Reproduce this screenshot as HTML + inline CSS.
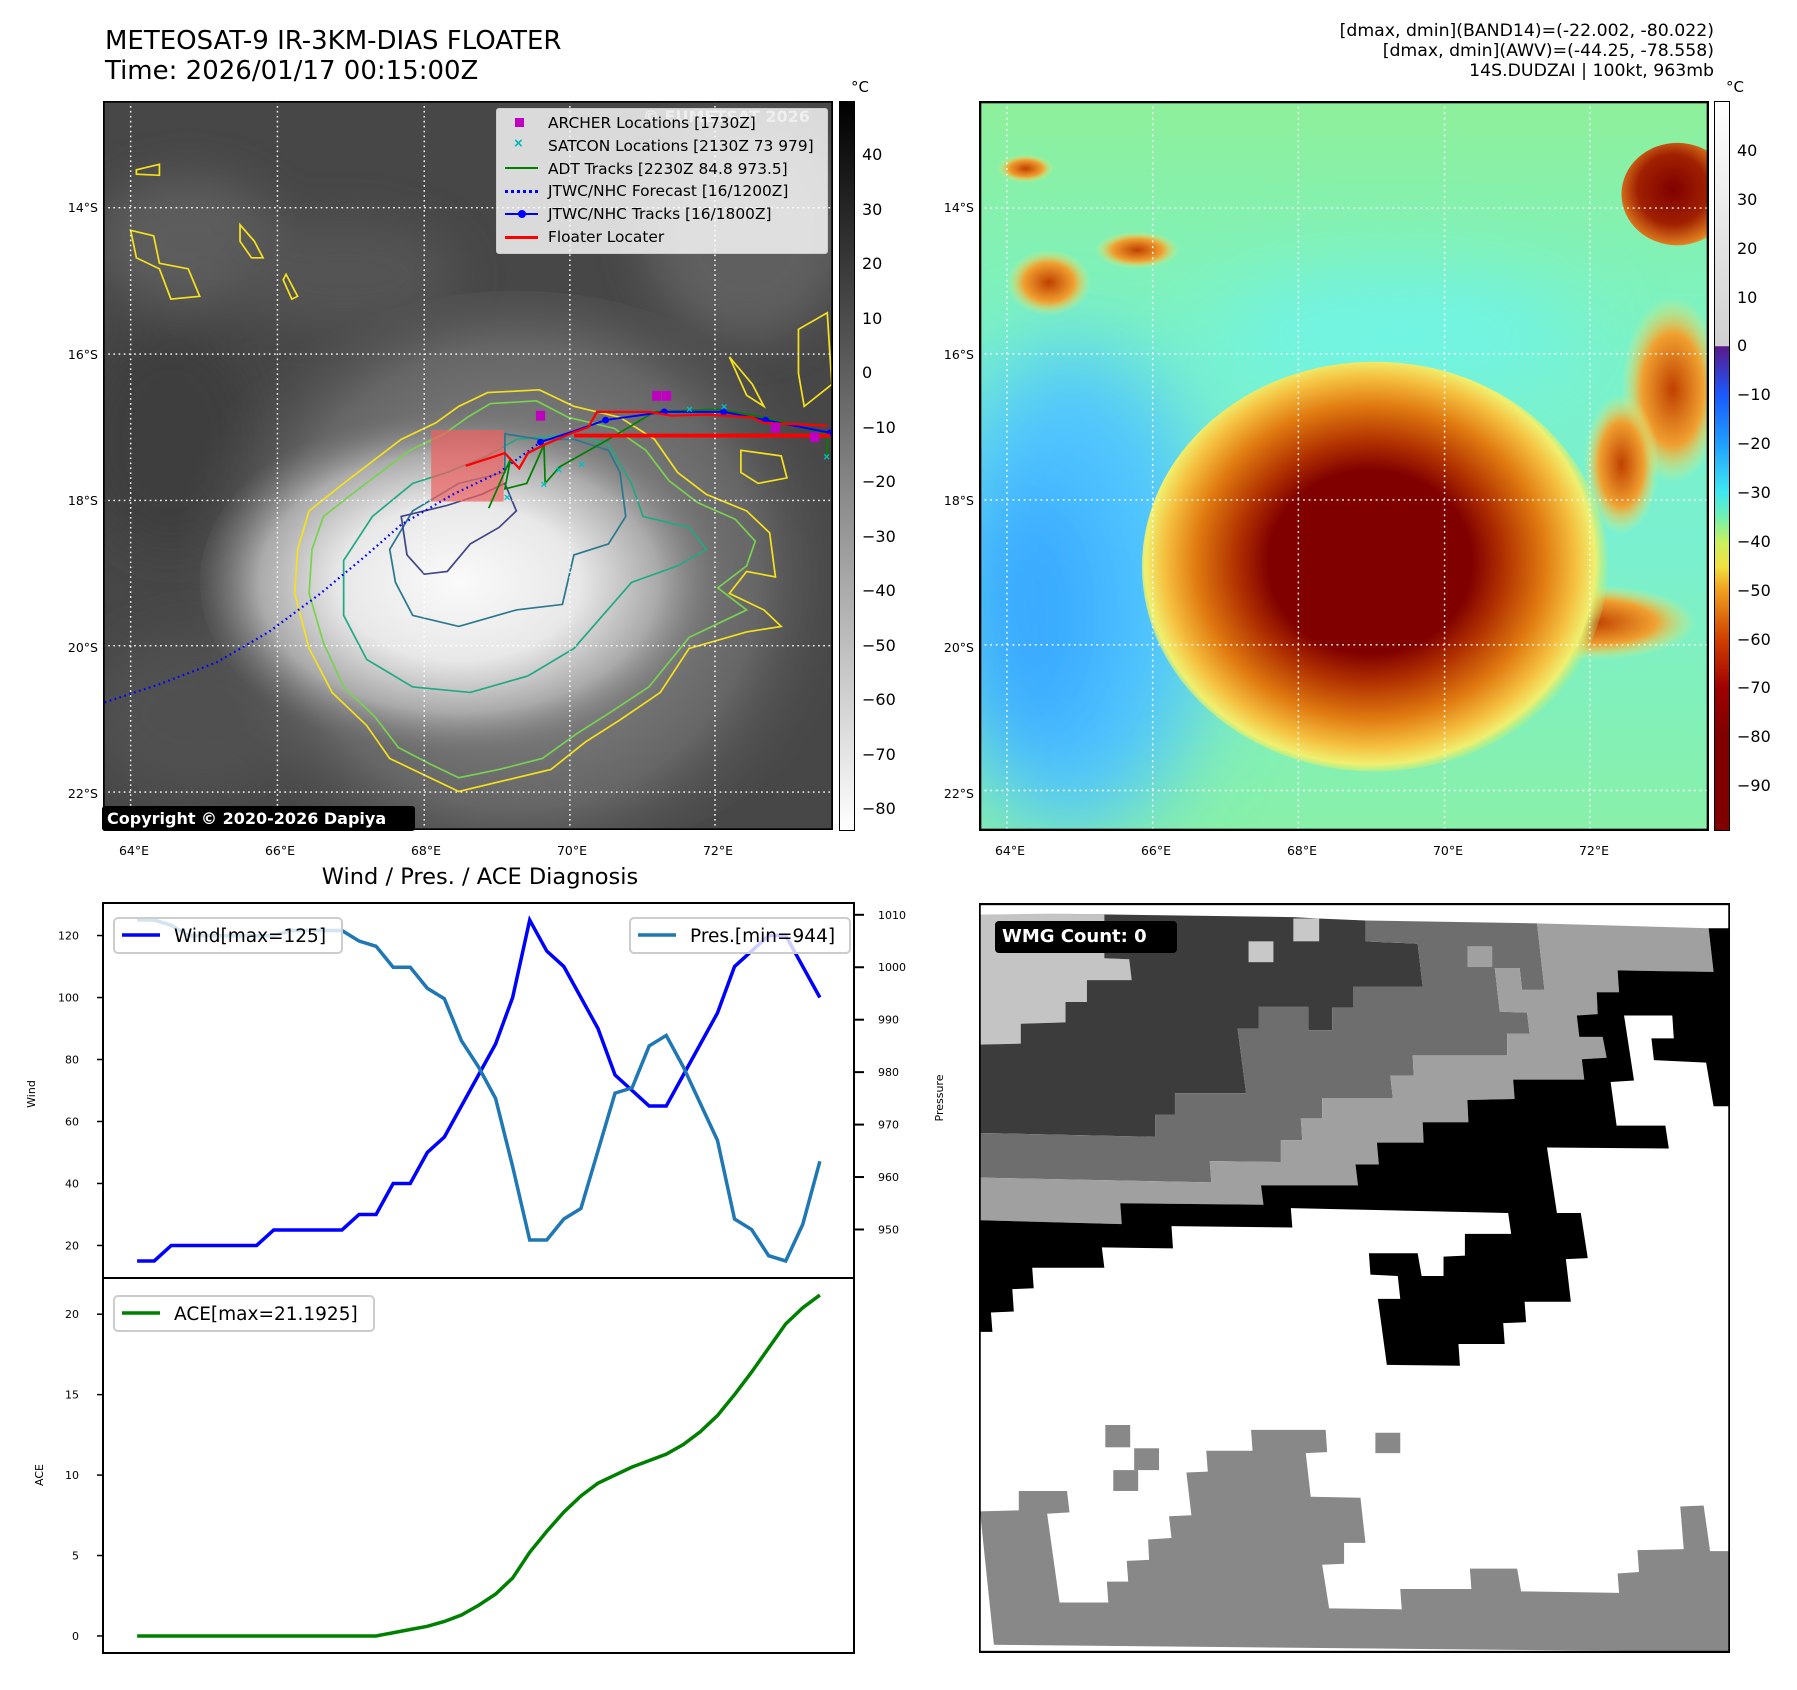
<!DOCTYPE html>
<html><head><meta charset="utf-8">
<style>
body{margin:0;background:#fff;}
#root{position:relative;width:1797px;height:1690px;overflow:hidden;background:#fff;font-family:"Liberation Sans","DejaVu Sans",sans-serif;color:#000;}
.abs{position:absolute;}
.t{position:absolute;white-space:nowrap;font-family:"DejaVu Sans","Liberation Sans",sans-serif;}
</style></head><body>
<div id="root">

<div class="t" style="left:105px;top:26px;font-size:26px;line-height:30px">METEOSAT-9 IR-3KM-DIAS FLOATER<br>Time: 2026/01/17 00:15:00Z</div>
<div class="t" style="right:83px;top:21px;font-size:17.3px;line-height:20px;text-align:right">[dmax, dmin](BAND14)=(-22.002, -80.022)<br>[dmax, dmin](AWV)=(-44.25, -78.558)<br>14S.DUDZAI | 100kt, 963mb</div>

<!-- LEFT MAP -->
<svg class="abs" style="left:103px;top:101px" width="730" height="729" viewBox="182 185 1268 1325" preserveAspectRatio="none">
<defs>
<radialGradient id="gw" cx="800" cy="1060" r="420" gradientUnits="userSpaceOnUse" gradientTransform="translate(800 1060) scale(1.1 0.75) translate(-800 -1060)">
<stop offset="0" stop-color="#fafafa"/><stop offset="0.45" stop-color="#e8e8e8"/><stop offset="0.75" stop-color="#aaa"/><stop offset="1" stop-color="#777" stop-opacity="0"/></radialGradient>
<radialGradient id="gh" cx="900" cy="1050" r="600" gradientUnits="userSpaceOnUse">
<stop offset="0" stop-color="#999"/><stop offset="0.7" stop-color="#666"/><stop offset="1" stop-color="#484848" stop-opacity="0"/></radialGradient>
<filter id="bl1"><feGaussianBlur stdDeviation="40"/></filter>
</defs>
<rect x="182" y="185" width="1268" height="1325" fill="#474747"/>
<g filter="url(#bl1)" opacity="0.7">
<ellipse cx="330" cy="440" rx="160" ry="120" fill="#666"/>
<ellipse cx="1300" cy="420" rx="180" ry="200" fill="#6a6a6a"/>
<ellipse cx="600" cy="500" rx="200" ry="100" fill="#5a5a5a"/>
<ellipse cx="350" cy="1300" rx="200" ry="150" fill="#555"/>
<ellipse cx="300" cy="800" rx="150" ry="200" fill="#3a3a3a"/>
</g>
<ellipse cx="900" cy="1050" rx="620" ry="520" fill="url(#gh)"/>
<ellipse cx="820" cy="1060" rx="470" ry="330" fill="url(#gw)"/>
<g fill="none" stroke-width="3">
<path d="M520,1000 L540,930 600,880 700,800 760,770 800,740 850,715 940,710 1000,740 1080,760 1140,800 1180,860 1230,900 1300,930 1340,970 1350,1050 1300,1040 1270,1080 1330,1110 1360,1140 1300,1150 1200,1180 1150,1260 1080,1310 1020,1350 960,1400 880,1420 800,1440 740,1410 680,1380 640,1320 580,1260 540,1180 515,1080Z" stroke="#f5e21c"/>
<path d="M545,1000 L565,940 620,895 715,820 775,790 815,760 855,735 935,730 990,760 1070,780 1125,820 1165,875 1215,915 1280,945 1315,985 1300,1030 1250,1070 1300,1110 1200,1160 1130,1250 1065,1295 1005,1335 945,1380 870,1400 800,1415 750,1390 695,1360 655,1305 600,1250 565,1170 540,1080Z" stroke="#7ad151"/>
<path d="M600,1020 L650,940 720,880 780,860 850,830 900,800 1000,790 1060,810 1100,880 1120,940 1200,960 1230,1000 1180,1030 1100,1060 1050,1120 1000,1180 920,1230 820,1260 720,1250 640,1200 600,1120Z" stroke="#22a884"/>
<path d="M680,1000 L720,930 800,880 880,860 880,790 940,800 1000,800 1060,820 1080,860 1090,940 1060,990 1000,1010 980,1100 900,1110 800,1140 720,1120 690,1060Z" stroke="#2a788e"/>
<path d="M700,940 L780,920 840,900 880,880 900,930 870,960 820,990 780,1040 740,1045 710,1010Z" stroke="#414487"/>
<path d="M240,310 L280,300 280,320 240,318Z M230,420 L270,430 280,480 330,490 350,540 300,545 280,490 240,470Z M420,410 L445,440 460,470 440,470 420,440Z M500,500 L520,540 510,545 495,510Z M1390,600 L1440,570 1448,700 1400,740 1390,680Z M1270,650 L1310,700 1330,740 1300,720Z M1290,820 L1360,830 1370,870 1320,880 1290,860Z" stroke="#f5e21c"/>
</g>
<g stroke="#fff" stroke-width="2.5" stroke-dasharray="3 6">
<line x1="230" y1="185" x2="230" y2="1510"/><line x1="485" y1="185" x2="485" y2="1510"/><line x1="740" y1="185" x2="740" y2="1510"/><line x1="993" y1="185" x2="993" y2="1510"/><line x1="1245" y1="185" x2="1245" y2="1510"/>
<line x1="182" y1="379" x2="1450" y2="379"/><line x1="182" y1="645" x2="1450" y2="645"/><line x1="182" y1="911" x2="1450" y2="911"/><line x1="182" y1="1175" x2="1450" y2="1175"/><line x1="182" y1="1441" x2="1450" y2="1441"/>
</g>
<rect x="752" y="783" width="126" height="130" fill="#f06060" opacity="0.7"/>
<polyline points="185,1278 280,1245 380,1205 470,1150 560,1080 640,1010 700,955 790,900 870,860 942,805" fill="none" stroke="#0000ff" stroke-width="4" stroke-dasharray="3 6"/>
<polyline points="852,925 890,835 880,890 918,880 948,810 950,880 975,850 1060,800 1140,750 1250,745 1330,760 1440,790 1440,830" fill="none" stroke="#008000" stroke-width="3"/>
<polyline points="942,805 1000,785 1055,765 1157,750 1260,750 1333,765 1445,788" fill="none" stroke="#0000ff" stroke-width="3.5"/>
<g fill="#0000ff"><circle cx="942" cy="805" r="6"/><circle cx="1055" cy="765" r="6"/><circle cx="1157" cy="750" r="6"/><circle cx="1260" cy="750" r="6"/><circle cx="1333" cy="765" r="6"/><circle cx="1445" cy="788" r="6"/></g>
<polyline points="812,848 880,825 905,853 920,825 948,810 1000,787 1025,778 1040,750 1130,750 1170,757 1230,755 1310,760 1330,770 1440,775" fill="none" stroke="#ff0000" stroke-width="4"/>
<line x1="1000" y1="793" x2="1445" y2="793" stroke="#ff0000" stroke-width="7"/>
<g fill="#00c0c0" font-size="20" font-weight="bold"><text x="878" y="912">×</text><text x="942" y="888">×</text><text x="968" y="862">×</text><text x="1008" y="852">×</text><text x="1195" y="752">×</text><text x="1255" y="748">×</text><text x="1433" y="838">×</text></g>
<g fill="#c000c0"><rect x="934" y="748" width="16" height="18"/><rect x="1136" y="712" width="16" height="18"/><rect x="1153" y="712" width="16" height="18"/><rect x="1342" y="770" width="16" height="18"/><rect x="1410" y="787" width="16" height="18"/></g>
<rect x="182" y="185" width="1268" height="1325" fill="none" stroke="#000" stroke-width="6"/>
</svg>
<div class="t" style="left:643px;top:107px;font-size:16px;font-weight:bold;color:rgba(255,255,255,0.55)">© EUMETSAT 2026</div>
<div class="abs" style="left:496px;top:108px;width:330px;height:144px;background:rgba(255,255,255,0.8);border:1px solid #ccc;border-radius:3px">
 <div class="abs" style="left:18px;top:9px;width:9px;height:9px;background:#c000c0"></div>
 <div class="abs" style="left:17px;top:27px;color:#00b8b8;font-size:15px;font-weight:bold;line-height:16px">×</div>
 <div class="abs" style="left:8px;top:58px;width:33px;height:2px;background:#008000"></div>
 <div class="abs" style="left:8px;top:81px;width:33px;border-top:3px dotted #0000ff"></div>
 <div class="abs" style="left:8px;top:104px;width:33px;height:2px;background:#0000ff"></div><div class="abs" style="left:21px;top:101px;width:8px;height:8px;border-radius:50%;background:#0000ff"></div>
 <div class="abs" style="left:8px;top:127px;width:33px;height:3px;background:#ff0000"></div>
 <div class="t" style="left:51px;top:3px;font-size:15.4px;line-height:22.8px">ARCHER Locations [1730Z]<br>SATCON Locations [2130Z 73 979]<br>ADT Tracks [2230Z 84.8 973.5]<br>JTWC/NHC Forecast [16/1200Z]<br>JTWC/NHC Tracks [16/1800Z]<br>Floater Locater</div>
</div>
<div class="abs" style="left:102px;top:806px;width:313px;height:25px;background:#000;border-radius:3px"><div class="t" style="left:5px;top:3px;color:#fff;font-weight:bold;font-size:16px">Copyright © 2020-2026 Dapiya</div></div>

<!-- left colorbar -->
<div class="abs" style="left:839px;top:101px;width:14px;height:728px;border:1px solid #000;background:linear-gradient(#000,#fff)"></div>
<div class="t" style="left:851px;top:78px;font-size:15px">°C</div>
<div id="cb1"></div>

<!-- RIGHT MAP -->
<svg class="abs" style="left:979px;top:101px" width="730" height="730" viewBox="0 0 1568 1568" preserveAspectRatio="none">
<defs>
<linearGradient id="bgv" x1="0" y1="0" x2="0" y2="1"><stop offset="0" stop-color="#8ef09a"/><stop offset="0.35" stop-color="#7af2c8"/><stop offset="0.6" stop-color="#7af0d0"/><stop offset="1" stop-color="#88f0a8"/></linearGradient>
<radialGradient id="st" cx="840" cy="990" r="520" gradientUnits="userSpaceOnUse" gradientTransform="translate(840 990) scale(1 0.9) translate(-840 -990)">
<stop offset="0" stop-color="#800000"/><stop offset="0.42" stop-color="#800000"/><stop offset="0.55" stop-color="#b03000"/><stop offset="0.72" stop-color="#e07a10"/><stop offset="0.85" stop-color="#f5c040"/><stop offset="0.93" stop-color="#f0f070"/><stop offset="1" stop-color="#a0f080" stop-opacity="0"/></radialGradient>
<radialGradient id="tr" cx="1490" cy="190" r="150" gradientUnits="userSpaceOnUse"><stop offset="0" stop-color="#800000"/><stop offset="0.5" stop-color="#a02000"/><stop offset="0.8" stop-color="#e08020"/><stop offset="1" stop-color="#f0e060" stop-opacity="0"/></radialGradient>
<radialGradient id="sm" cx="0.5" cy="0.5" r="0.5"><stop offset="0" stop-color="#c04000"/><stop offset="0.6" stop-color="#f0a030"/><stop offset="1" stop-color="#f0f070" stop-opacity="0"/></radialGradient>
<filter id="bl2" x="-50%" y="-50%" width="200%" height="200%"><feGaussianBlur stdDeviation="90"/></filter>
</defs>
<rect width="1568" height="1568" fill="url(#bgv)"/>
<g filter="url(#bl2)">
<ellipse cx="200" cy="1050" rx="300" ry="520" fill="#50c4ff"/>
<ellipse cx="120" cy="1100" rx="150" ry="300" fill="#38a8ff"/>
<ellipse cx="900" cy="500" rx="400" ry="120" fill="#70f4e8"/>
</g>
<ellipse cx="150" cy="390" rx="90" ry="70" fill="url(#sm)"/>
<ellipse cx="100" cy="145" rx="60" ry="30" fill="url(#sm)"/>
<ellipse cx="340" cy="320" rx="90" ry="40" fill="url(#sm)"/>
<ellipse cx="1490" cy="620" rx="110" ry="200" fill="url(#sm)"/>
<ellipse cx="1380" cy="780" rx="80" ry="150" fill="url(#sm)"/>
<ellipse cx="1320" cy="1120" rx="220" ry="80" fill="url(#sm)"/>
<ellipse cx="1500" cy="200" rx="120" ry="110" fill="url(#tr)"/>
<ellipse cx="850" cy="1000" rx="500" ry="440" fill="url(#st)"/>
<g stroke="#fff" stroke-width="3" stroke-dasharray="4 8">
<line x1="60" y1="0" x2="60" y2="1568"/><line x1="373" y1="0" x2="373" y2="1568"/><line x1="686" y1="0" x2="686" y2="1568"/><line x1="1000" y1="0" x2="1000" y2="1568"/><line x1="1312" y1="0" x2="1312" y2="1568"/>
<line x1="0" y1="230" x2="1568" y2="230"/><line x1="0" y1="543" x2="1568" y2="543"/><line x1="0" y1="857" x2="1568" y2="857"/><line x1="0" y1="1168" x2="1568" y2="1168"/><line x1="0" y1="1481" x2="1568" y2="1481"/>
</g>
<rect x="2" y="2" width="1564" height="1564" fill="none" stroke="#000" stroke-width="6"/>
</svg>
<div class="abs" style="left:1714px;top:101px;width:14px;height:728px;border:1px solid #000;background:linear-gradient(#ffffff 0%,#d0d0d0 33.5%,#5a1a8a 33.6%,#1a5aff 40.3%,#20a0ff 47%,#40e8f0 53.7%,#70f0b0 57%,#c8f060 60.4%,#f0e040 63.8%,#f0a020 67%,#d04000 73.8%,#a00000 80.5%,#800000 87%,#800000 100%)"></div>
<div class="t" style="left:1726px;top:78px;font-size:15px">°C</div>
<div id="cb2"></div>
<div id="maplabels"></div>

<!-- bottom charts -->
<div class="t" style="left:0;width:960px;text-align:center;top:864px;font-size:22.5px">Wind / Pres. / ACE Diagnosis</div>
<svg id="chart" class="abs" style="left:0;top:0" width="960" height="1690"></svg>

<!-- WMG panel -->
<svg class="abs" style="left:979px;top:903px" width="751" height="750" viewBox="38 6 1510 1546" preserveAspectRatio="none">
<rect x="38" y="6" width="1510" height="1546" fill="#fff"/>
<polygon fill="#c4c4c4" points="40,30 180,28 290,30 290,120 340,122 345,165 255,165 255,210 212,210 212,252 122,255 122,296 40,298"/>
<polygon fill="#3c3c3c" points="180,28 670,35 720,38 815,42 815,85 920,90 930,178 790,178 790,222 748,222 748,268 700,268 700,220 600,220 600,265 558,265 575,398 432,398 432,442 392,442 392,488 40,480 40,298 122,296 122,255 212,252 212,210 255,210 255,165 345,165 340,122 290,120 290,30"/>
<polygon fill="#6e6e6e" points="815,42 1160,48 1175,185 1130,185 1125,140 1075,140 1085,230 1140,232 1145,275 1100,275 1100,320 910,320 912,362 865,362 870,408 728,408 728,450 685,450 688,495 645,495 645,540 502,538 505,582 40,572 40,480 392,488 392,442 432,442 432,398 575,398 558,265 600,265 600,220 700,220 700,268 748,268 748,222 790,222 790,178 930,178 920,90 815,85"/>
<polygon fill="#a0a0a0" points="1160,48 1505,58 1515,148 1322,145 1325,190 1280,190 1282,235 1240,238 1245,282 1292,282 1300,325 1250,328 1255,370 1112,370 1115,410 1020,412 1022,458 930,458 932,500 838,500 842,545 795,545 800,588 605,588 610,628 322,625 325,668 40,660 40,572 505,582 502,538 645,540 645,495 688,495 685,450 728,450 728,408 870,408 865,362 912,362 910,320 1100,320 1100,275 1145,275 1140,232 1085,230 1075,140 1125,140 1130,185 1175,185"/>
<polygon fill="#000" points="1505,58 1545,58 1545,425 1515,425 1500,335 1395,330 1390,285 1435,285 1432,238 1335,238 1355,372 1308,375 1320,465 1418,465 1425,512 1180,510 1200,645 1248,645 1262,738 1218,740 1228,828 1135,828 1138,870 1092,872 1095,915 1002,915 1005,960 858,958 840,822 885,822 880,775 825,772 822,728 920,728 928,775 972,775 972,735 1015,733 1015,688 1108,688 1102,645 665,635 668,675 425,672 428,718 285,716 290,758 145,758 148,800 105,802 108,848 62,850 65,890 40,890 40,660 325,668 322,625 610,628 605,588 800,588 795,545 842,545 838,500 932,500 930,458 1022,458 1020,412 1115,410 1112,370 1255,370 1250,328 1300,325 1292,282 1245,282 1240,238 1282,235 1280,190 1325,190 1322,145 1515,148"/>
<polygon fill="#888" points="40,1260 118,1258 118,1218 215,1218 220,1262 175,1265 200,1448 298,1448 295,1405 338,1405 335,1362 380,1360 378,1318 425,1315 420,1270 465,1268 455,1180 498,1178 495,1135 588,1135 585,1092 735,1092 738,1138 695,1140 705,1230 805,1232 815,1325 772,1325 772,1368 728,1370 742,1460 888,1462 885,1420 1028,1420 1025,1378 1120,1378 1128,1425 1325,1428 1322,1388 1365,1385 1362,1340 1455,1338 1448,1250 1495,1248 1508,1342 1545,1342 1545,1550 68,1535"/>
<g fill="#888"><rect x="292" y="1082" width="50" height="46"/><rect x="350" y="1130" width="50" height="45"/><rect x="308" y="1175" width="50" height="43"/><rect x="835" y="1098" width="50" height="42"/></g>
<rect x="580" y="85" width="50" height="43" fill="#c8c8c8"/><rect x="670" y="38" width="52" height="47" fill="#c8c8c8"/><rect x="1020" y="95" width="50" height="43" fill="#a0a0a0"/>
<rect x="39" y="8" width="1508" height="1542" fill="none" stroke="#000" stroke-width="5"/>
</svg>
<div class="abs" style="left:995px;top:921px;width:182px;height:32px;background:#000;border-radius:4px"><div class="t" style="left:7px;top:5px;color:#fff;font-weight:bold;font-size:18px">WMG Count: 0</div></div>

</div>
<script>
// Chart data
const windValues=[15,15,20,20,20,20,20,20,25,25,25,25,25,30,30,40,40,50,55,65,75,85,100,125,115,110,100,90,75,70,65,65,75,85,95,110,115,120,120,110,100];
const presValues=[1009,1009,1008,1006,1006,1006,1006,1006,1006,1007,1007,1007,1007,1005,1004,1000,1000,996,994,986,981,975,962,948,948,952,954,965,976,977,985,987,981,974,967,952,950,945,944,951,963];
const aceValues=[0,0,0,0,0,0,0,0,0,0,0,0,0,0,0,0.2,0.4,0.6,0.9,1.3,1.9,2.6,3.6,5.2,6.5,7.7,8.7,9.5,10.0,10.5,10.9,11.3,11.9,12.7,13.7,15.0,16.4,17.9,19.4,20.4,21.19];
const windTicks=[20,40,60,80,100,120];
const presTicks=[950,960,970,980,990,1000,1010];
const aceTicks=[0,5,10,15,20];
const lonTicks=["64°E","66°E","68°E","70°E","72°E"];
const latTicks=["14°S","16°S","18°S","20°S","22°S"];
const irCbTicks=[40,30,20,10,0,-10,-20,-30,-40,-50,-60,-70,-80];
const awvCbTicks=[40,30,20,10,0,-10,-20,-30,-40,-50,-60,-70,-80,-90];

const NS='http://www.w3.org/2000/svg';
const L=103,R=854,T1=903,B1=1278,T2=1278,B2=1653;
const n=windValues.length;
const xs=i=>L+(i+0.05*(n-1))/((n-1)*1.1)*(R-L);
function ext(a){const mn=Math.min(...a),mx=Math.max(...a),p=(mx-mn)*0.05;return [mn-p,mx+p];}
const wD=ext(windValues),pD=ext(presValues),aD=ext(aceValues);
const yW=v=>B1-(v-wD[0])/(wD[1]-wD[0])*(B1-T1);
const yP=v=>B1-(v-pD[0])/(pD[1]-pD[0])*(B1-T1);
const yA=v=>B2-(v-aD[0])/(aD[1]-aD[0])*(B2-T2);
const svg=document.getElementById('chart');
function el(tag,attrs){const e=document.createElementNS(NS,tag);for(const k in attrs)e.setAttribute(k,attrs[k]);svg.appendChild(e);return e;}
function txt(x,y,s,anchor,size,rot){const e=el('text',{x:x,y:y,'font-size':size||11,'text-anchor':anchor||'start','font-family':'DejaVu Sans, Liberation Sans, sans-serif'});if(rot)e.setAttribute('transform','rotate(-90 '+x+' '+y+')');e.textContent=s;return e;}
el('rect',{x:L,y:T1,width:R-L,height:B2-T1,fill:'#fff',stroke:'none'});
let p=el('polyline',{points:windValues.map((v,i)=>xs(i)+','+yW(v)).join(' '),fill:'none',stroke:'#0000ff','stroke-width':3.5});


let q=el('polyline',{points:presValues.map((v,i)=>xs(i)+','+yP(v)).join(' '),fill:'none',stroke:'#1f77b4','stroke-width':3.5});


let a=el('polyline',{points:aceValues.map((v,i)=>xs(i)+','+yA(v)).join(' '),fill:'none',stroke:'#008000','stroke-width':3.5});


el('rect',{x:L,y:T1,width:R-L,height:B1-T1,fill:'none',stroke:'#000','stroke-width':2});
el('rect',{x:L,y:T2,width:R-L,height:B2-T2,fill:'none',stroke:'#000','stroke-width':2});
windTicks.forEach(v=>{const y=yW(v);el('line',{x1:L-6,x2:L,y1:y,y2:y,stroke:'#000','stroke-width':1.5});const t=txt(L-24,y+4,String(v),'end',11);});
presTicks.forEach(v=>{const y=yP(v);el('line',{x1:R,x2:R+10,y1:y,y2:y,stroke:'#000','stroke-width':2});const t=txt(R+24,y+4,String(v),'start',11);});
aceTicks.forEach(v=>{const y=yA(v);el('line',{x1:L-6,x2:L,y1:y,y2:y,stroke:'#000','stroke-width':1.5});const t=txt(L-24,y+4,String(v),'end',11);});
txt(35,1094,'Wind','middle',11,true);
txt(943,1098,'Pressure','middle',11,true);
txt(43,1475,'ACE','middle',11,true);
function legend(x,y,w,color,label,name){const g=el('rect',{x:x,y:y,width:w,height:35,rx:4,fill:'rgba(255,255,255,0.8)',stroke:'#ccc','stroke-width':2});el('line',{x1:x+8,x2:x+46,y1:y+17,y2:y+17,stroke:color,'stroke-width':3.5});txt(x+60,y+24,label,'start',18.5);}
legend(114,918,228,'#0000ff','Wind[max=125]','wind-legend');
legend(630,918,220,'#1f77b4','Pres.[min=944]','pressure-legend');
legend(114,1296,260,'#008000','ACE[max=21.1925]','ace-legend');

const ml=document.getElementById('maplabels');
function div(parent,html,style,name){const d=document.createElement('div');d.className='t';d.style.cssText=style;d.textContent=html;parent.appendChild(d);return d;}
const lonX=i=>134+i*146,latY=i=>208+i*146.5;
[0,876].forEach(off=>{
 lonTicks.forEach((s,i)=>{div(ml,s,'left:'+(off+lonX(i)-25)+'px;width:50px;text-align:center;top:843px;font-size:12.5px','lon-tick-label');});
 latTicks.forEach((s,i)=>{div(ml,s,'left:'+(off+30)+'px;width:68px;text-align:right;top:'+(latY(i)-8)+'px;font-size:12.5px','lat-tick-label');});
});
const c1=document.getElementById('cb1');
irCbTicks.forEach((v,i)=>{const y=155+i*54.5;div(c1,String(v).replace('-','−'),'left:862px;top:'+(y-10)+'px;font-size:16px','ir-colorbar-tick');});
const c2=document.getElementById('cb2');
awvCbTicks.forEach((v,i)=>{const y=151+i*48.85;div(c2,String(v).replace('-','−'),'left:1737px;top:'+(y-10)+'px;font-size:16px','awv-colorbar-tick');});
</script>
</body></html>
